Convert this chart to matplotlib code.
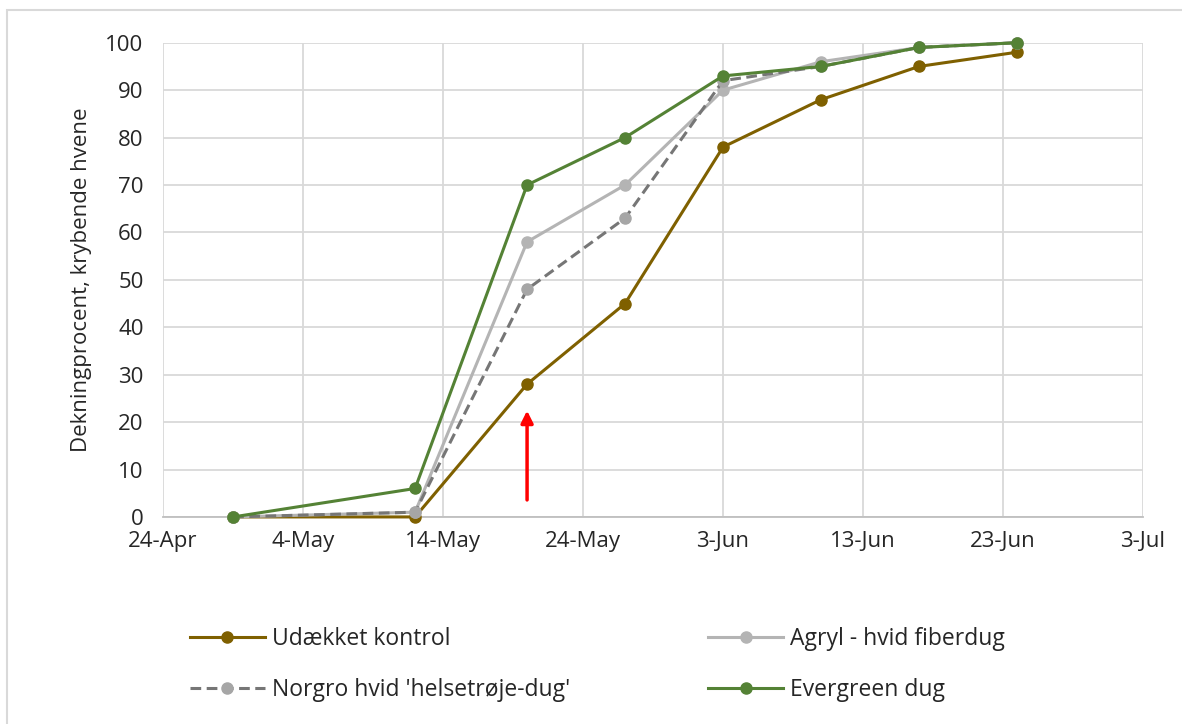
import datetime as dt
import matplotlib
matplotlib.use("Agg")
import matplotlib.pyplot as plt
import matplotlib.dates as mdates
from matplotlib.patches import Rectangle

plt.rcParams['font.family'] = ['Open Sans', 'DejaVu Sans']

dates = [dt.date(2021, 4, 29), dt.date(2021, 5, 12), dt.date(2021, 5, 20),
         dt.date(2021, 5, 27), dt.date(2021, 6, 3), dt.date(2021, 6, 10),
         dt.date(2021, 6, 17), dt.date(2021, 6, 24)]
udaekket = [0, 0, 28, 45, 78, 88, 95, 98]
agryl = [0, 1, 58, 70, 90, 96, 99, 100]
norgro = [0, 1, 48, 63, 92, 95, 99, 100]
evergreen = [0, 6, 70, 80, 93, 95, 99, 100]

labels = ["Udækket kontrol", "Agryl - hvid fiberdug",
          "Norgro hvid 'helsetrøje-dug'", "Evergreen dug"]

fig = plt.figure(figsize=(11.82, 7.24), dpi=100)
ax = fig.add_axes([0.138, 0.286, 0.829, 0.655])

# frame round the whole chart
fig.patches.append(Rectangle((0.006, -0.01), 1.2, 0.996, transform=fig.transFigure,
                             fill=False, edgecolor='#d9d9d9', linewidth=1.5))

kw = dict(lw=2.2, marker='o', ms=8, clip_on=False)
l1, = ax.plot(dates, udaekket, color='#7f6000', zorder=3, **kw)
l2, = ax.plot(dates, agryl, color='#b4b4b4', zorder=3, **kw)
l3, = ax.plot(dates, norgro, color='#767676', ls=(0, (3.5, 1.8)),
              markerfacecolor='#a6a6a6', markeredgecolor='#a6a6a6', zorder=3, **kw)
l4, = ax.plot(dates, evergreen, color='#548235', zorder=4, **kw)

# red arrow at 20-May
ax.annotate('', xy=(dates[2], 23), xytext=(dates[2], 3),
            arrowprops=dict(arrowstyle='-|>', color='red', lw=2.5, mutation_scale=18))

ax.set_xlim(dt.date(2021, 4, 24), dt.date(2021, 7, 3))
ax.set_ylim(0, 100)
ticks = [dt.date(2021, 4, 24) + dt.timedelta(days=10 * i) for i in range(8)]
ax.set_xticks(ticks)
ax.xaxis.set_major_formatter(mdates.DateFormatter('%-d-%b'))
ax.set_yticks(range(0, 101, 10))
ax.grid(True, color='#d9d9d9', lw=1.3)
ax.set_axisbelow(True)
for s in ['top', 'right', 'left']:
    ax.spines[s].set_visible(False)
ax.spines['bottom'].set_color('#bfbfbf')
ax.spines['bottom'].set_linewidth(1.3)
ax.tick_params(length=0, labelsize=16, colors='#262626', pad=10)
ax.tick_params(axis='y', pad=14)
ax.set_ylabel('Dekningprocent, krybende hvene', fontsize=16, color='#262626', labelpad=10)

fig.legend([l1, l3, l2, l4], [labels[0], labels[2], labels[1], labels[3]],
           ncol=2, loc='upper left', bbox_to_anchor=(0.143, 0.162), frameon=False,
           fontsize=16.5, handlelength=3.3, columnspacing=6.0, labelspacing=1.15,
           handletextpad=0.3, labelcolor='#262626')

fig.savefig('out.png', dpi=100)
